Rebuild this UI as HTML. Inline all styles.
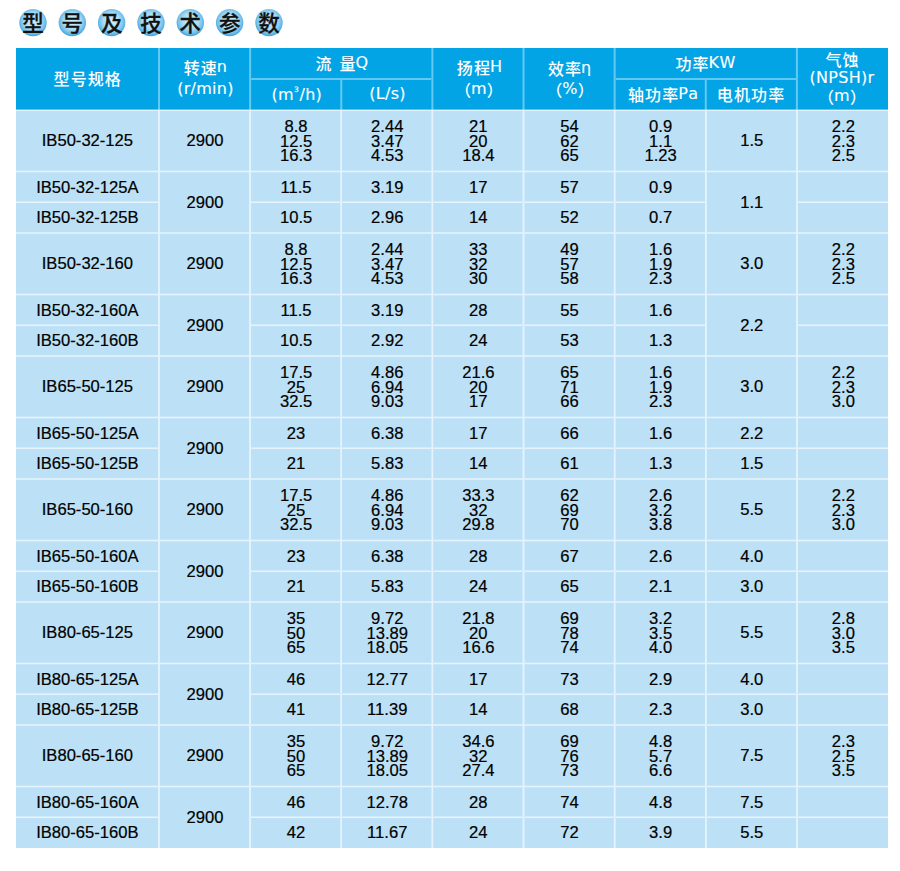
<!DOCTYPE html><html><head><meta charset="utf-8"><title>型号及技术参数</title><style>
html,body{margin:0;padding:0;background:#fff;}
body{width:900px;height:871px;overflow:hidden;position:relative;}
.bg{position:absolute;left:0;top:0;}
.b,.h{position:absolute;display:flex;align-items:center;justify-content:center;text-align:center;white-space:nowrap;}
.b{font-family:"Liberation Sans",Arial,sans-serif;font-size:16.6px;color:#000;line-height:18px;-webkit-text-stroke:0.2px #000;}
.b .m{display:block;line-height:14.5px;position:relative;top:0.6px;}
.h{font-family:"DejaVu Sans","Noto Sans CJK SC",sans-serif;font-size:16px;color:#fff;line-height:20px;}
.h .h2{display:block;line-height:22.5px;}
.h .h3{display:block;line-height:19px;}
.hl{position:absolute;width:120px;height:24px;line-height:24px;text-align:center;white-space:nowrap;font-family:"DejaVu Sans","Noto Sans CJK SC",sans-serif;font-size:16px;color:#fff;letter-spacing:0.3px;font-kerning:none;-webkit-text-stroke:0.12px #fff;}
.hl .cj{font-family:"Noto Sans CJK SC",sans-serif;font-size:16px;letter-spacing:1.1px;font-weight:500;vertical-align:top;margin-right:-1.1px;-webkit-text-stroke:0;}
.hl sup{font-size:7.5px;vertical-align:8px;line-height:0;letter-spacing:0.8px;}
.h .cj{font-family:"Noto Sans CJK SC",sans-serif;font-size:16.6px;}
.h sup{font-size:9px;vertical-align:8px;line-height:0;}
.t{position:absolute;top:10.2px;width:30px;height:28px;font-family:"Noto Sans CJK SC",sans-serif;font-weight:500;font-size:21.5px;line-height:24px;text-align:center;color:#111;-webkit-text-stroke:0.3px #111;}
</style></head><body><svg class="bg" width="900" height="871" viewBox="0 0 900 871"><defs><radialGradient id="cg" cx="50%" cy="45%" r="55%"><stop offset="0" stop-color="#d4f0fc"/><stop offset="0.55" stop-color="#a8dcf5"/><stop offset="0.82" stop-color="#70bee9"/><stop offset="1" stop-color="#3c9fd9"/></radialGradient></defs><rect x="16" y="48" width="872" height="62" fill="#02a4e6"/><rect x="16" y="110" width="872" height="738" fill="#bce0f6"/><rect x="158" y="48" width="2" height="62" fill="#62caf2"/><rect x="249.13" y="48" width="2" height="62" fill="#62caf2"/><rect x="340.26" y="79" width="2" height="31" fill="#62caf2"/><rect x="431.39" y="48" width="2" height="62" fill="#62caf2"/><rect x="522.52" y="48" width="2" height="62" fill="#62caf2"/><rect x="613.65" y="48" width="2" height="62" fill="#62caf2"/><rect x="704.78" y="79" width="2" height="31" fill="#62caf2"/><rect x="795.91" y="48" width="2" height="62" fill="#62caf2"/><rect x="251.13" y="78" width="180.26" height="2" fill="#62caf2"/><rect x="615.65" y="78" width="180.26" height="2" fill="#62caf2"/><rect x="16" y="109.6" width="872" height="1.4" fill="#e4f3fc"/><rect x="158.25" y="110" width="1.5" height="738" fill="#e4f3fc"/><rect x="249.38" y="110" width="1.5" height="738" fill="#e4f3fc"/><rect x="340.51" y="110" width="1.5" height="738" fill="#e4f3fc"/><rect x="431.64" y="110" width="1.5" height="738" fill="#e4f3fc"/><rect x="522.77" y="110" width="1.5" height="738" fill="#e4f3fc"/><rect x="613.9" y="110" width="1.5" height="738" fill="#e4f3fc"/><rect x="705.03" y="110" width="1.5" height="738" fill="#e4f3fc"/><rect x="796.16" y="110" width="1.5" height="738" fill="#e4f3fc"/><rect x="16" y="170.7" width="872" height="1.6" fill="#e4f3fc"/><rect x="16" y="201.45" width="142" height="1.6" fill="#e4f3fc"/><rect x="251.13" y="201.45" width="89.13" height="1.6" fill="#e4f3fc"/><rect x="342.26" y="201.45" width="89.13" height="1.6" fill="#e4f3fc"/><rect x="433.39" y="201.45" width="89.13" height="1.6" fill="#e4f3fc"/><rect x="524.52" y="201.45" width="89.13" height="1.6" fill="#e4f3fc"/><rect x="615.65" y="201.45" width="89.13" height="1.6" fill="#e4f3fc"/><rect x="797.91" y="201.45" width="90.09" height="1.6" fill="#e4f3fc"/><rect x="16" y="232.2" width="872" height="1.6" fill="#e4f3fc"/><rect x="16" y="293.7" width="872" height="1.6" fill="#e4f3fc"/><rect x="16" y="324.45" width="142" height="1.6" fill="#e4f3fc"/><rect x="251.13" y="324.45" width="89.13" height="1.6" fill="#e4f3fc"/><rect x="342.26" y="324.45" width="89.13" height="1.6" fill="#e4f3fc"/><rect x="433.39" y="324.45" width="89.13" height="1.6" fill="#e4f3fc"/><rect x="524.52" y="324.45" width="89.13" height="1.6" fill="#e4f3fc"/><rect x="615.65" y="324.45" width="89.13" height="1.6" fill="#e4f3fc"/><rect x="797.91" y="324.45" width="90.09" height="1.6" fill="#e4f3fc"/><rect x="16" y="355.2" width="872" height="1.6" fill="#e4f3fc"/><rect x="16" y="416.7" width="872" height="1.6" fill="#e4f3fc"/><rect x="16" y="447.45" width="142" height="1.6" fill="#e4f3fc"/><rect x="251.13" y="447.45" width="89.13" height="1.6" fill="#e4f3fc"/><rect x="342.26" y="447.45" width="89.13" height="1.6" fill="#e4f3fc"/><rect x="433.39" y="447.45" width="89.13" height="1.6" fill="#e4f3fc"/><rect x="524.52" y="447.45" width="89.13" height="1.6" fill="#e4f3fc"/><rect x="615.65" y="447.45" width="89.13" height="1.6" fill="#e4f3fc"/><rect x="706.78" y="447.45" width="89.13" height="1.6" fill="#e4f3fc"/><rect x="797.91" y="447.45" width="90.09" height="1.6" fill="#e4f3fc"/><rect x="16" y="478.2" width="872" height="1.6" fill="#e4f3fc"/><rect x="16" y="539.7" width="872" height="1.6" fill="#e4f3fc"/><rect x="16" y="570.45" width="142" height="1.6" fill="#e4f3fc"/><rect x="251.13" y="570.45" width="89.13" height="1.6" fill="#e4f3fc"/><rect x="342.26" y="570.45" width="89.13" height="1.6" fill="#e4f3fc"/><rect x="433.39" y="570.45" width="89.13" height="1.6" fill="#e4f3fc"/><rect x="524.52" y="570.45" width="89.13" height="1.6" fill="#e4f3fc"/><rect x="615.65" y="570.45" width="89.13" height="1.6" fill="#e4f3fc"/><rect x="706.78" y="570.45" width="89.13" height="1.6" fill="#e4f3fc"/><rect x="797.91" y="570.45" width="90.09" height="1.6" fill="#e4f3fc"/><rect x="16" y="601.2" width="872" height="1.6" fill="#e4f3fc"/><rect x="16" y="662.7" width="872" height="1.6" fill="#e4f3fc"/><rect x="16" y="693.45" width="142" height="1.6" fill="#e4f3fc"/><rect x="251.13" y="693.45" width="89.13" height="1.6" fill="#e4f3fc"/><rect x="342.26" y="693.45" width="89.13" height="1.6" fill="#e4f3fc"/><rect x="433.39" y="693.45" width="89.13" height="1.6" fill="#e4f3fc"/><rect x="524.52" y="693.45" width="89.13" height="1.6" fill="#e4f3fc"/><rect x="615.65" y="693.45" width="89.13" height="1.6" fill="#e4f3fc"/><rect x="706.78" y="693.45" width="89.13" height="1.6" fill="#e4f3fc"/><rect x="797.91" y="693.45" width="90.09" height="1.6" fill="#e4f3fc"/><rect x="16" y="724.2" width="872" height="1.6" fill="#e4f3fc"/><rect x="16" y="785.7" width="872" height="1.6" fill="#e4f3fc"/><rect x="16" y="816.45" width="142" height="1.6" fill="#e4f3fc"/><rect x="251.13" y="816.45" width="89.13" height="1.6" fill="#e4f3fc"/><rect x="342.26" y="816.45" width="89.13" height="1.6" fill="#e4f3fc"/><rect x="433.39" y="816.45" width="89.13" height="1.6" fill="#e4f3fc"/><rect x="524.52" y="816.45" width="89.13" height="1.6" fill="#e4f3fc"/><rect x="615.65" y="816.45" width="89.13" height="1.6" fill="#e4f3fc"/><rect x="706.78" y="816.45" width="89.13" height="1.6" fill="#e4f3fc"/><rect x="797.91" y="816.45" width="90.09" height="1.6" fill="#e4f3fc"/><rect x="158.25" y="110" width="1.5" height="738" fill="#e4f3fc"/><rect x="249.38" y="110" width="1.5" height="738" fill="#e4f3fc"/><rect x="340.51" y="110" width="1.5" height="738" fill="#e4f3fc"/><rect x="431.64" y="110" width="1.5" height="738" fill="#e4f3fc"/><rect x="522.77" y="110" width="1.5" height="738" fill="#e4f3fc"/><rect x="613.9" y="110" width="1.5" height="738" fill="#e4f3fc"/><rect x="705.03" y="110" width="1.5" height="738" fill="#e4f3fc"/><rect x="796.16" y="110" width="1.5" height="738" fill="#e4f3fc"/><circle cx="33.00" cy="22.6" r="13.7" fill="url(#cg)"/><circle cx="72.33" cy="22.6" r="13.7" fill="url(#cg)"/><circle cx="111.66" cy="22.6" r="13.7" fill="url(#cg)"/><circle cx="150.99" cy="22.6" r="13.7" fill="url(#cg)"/><circle cx="190.32" cy="22.6" r="13.7" fill="url(#cg)"/><circle cx="229.65" cy="22.6" r="13.7" fill="url(#cg)"/><circle cx="268.98" cy="22.6" r="13.7" fill="url(#cg)"/></svg>
<div class="t" style="left:18.00px">型</div>
<div class="t" style="left:57.33px">号</div>
<div class="t" style="left:96.66px">及</div>
<div class="t" style="left:135.99px">技</div>
<div class="t" style="left:175.32px">术</div>
<div class="t" style="left:214.65px">参</div>
<div class="t" style="left:253.98px">数</div>
<div class="hl" id="h0" style="left:27.20px;top:65.80px"><span class="cj">型号规格</span></div>
<div class="hl" id="h1" style="left:145.50px;top:55.00px"><span class="cj">转速</span>n</div>
<div class="hl" id="h2" style="left:145.50px;top:77.15px">(r/min)</div>
<div class="hl" id="h3" style="left:282.00px;top:50.75px"><span class="cj">流</span><span style="display:inline-block;width:8px"></span><span class="cj">量</span>Q</div>
<div class="hl" id="h4" style="left:236.80px;top:82.50px">(m<sup>3</sup>/h)</div>
<div class="hl" id="h5" style="left:327.50px;top:82.00px">(L/s)</div>
<div class="hl" id="h6" style="left:419.60px;top:55.25px"><span class="cj">扬程</span>H</div>
<div class="hl" id="h7" style="left:418.90px;top:76.80px"><span class="cj">（</span>m<span class="cj">）</span></div>
<div class="hl" id="h8" style="left:509.75px;top:55.50px"><span class="cj">效率</span>η</div>
<div class="hl" id="h9" style="left:510.00px;top:77.25px"><span class="cj">（</span>%<span class="cj">）</span></div>
<div class="hl" id="h10" style="left:645.50px;top:50.85px"><span class="cj">功率</span>KW</div>
<div class="hl" id="h11" style="left:603.15px;top:81.50px"><span class="cj">轴功率</span>Pa</div>
<div class="hl" id="h12" style="left:690.50px;top:81.50px"><span class="cj">电机功率</span></div>
<div class="hl" id="h13" style="left:782.00px;top:47.25px"><span class="cj">气蚀</span></div>
<div class="hl" id="h14" style="left:782.00px;top:65.75px">(NPSH)r</div>
<div class="hl" id="h15" style="left:782.00px;top:84.00px"><span class="cj">（</span>m<span class="cj">）</span></div>
<div class="b" style="left:16.4px;top:110.7px;width:142px;height:61.5px">IB50-32-125</div>
<div class="b" style="left:160.4px;top:110.7px;width:89.13px;height:61.5px">2900</div>
<div class="b" style="left:251.53px;top:110.7px;width:89.13px;height:61.5px"><span class="m">8.8<br>12.5<br>16.3</span></div>
<div class="b" style="left:342.66px;top:110.7px;width:89.13px;height:61.5px"><span class="m">2.44<br>3.47<br>4.53</span></div>
<div class="b" style="left:433.79px;top:110.7px;width:89.13px;height:61.5px"><span class="m">21<br>20<br>18.4</span></div>
<div class="b" style="left:524.92px;top:110.7px;width:89.13px;height:61.5px"><span class="m">54<br>62<br>65</span></div>
<div class="b" style="left:616.05px;top:110.7px;width:89.13px;height:61.5px"><span class="m">0.9<br>1.1<br>1.23</span></div>
<div class="b" style="left:707.18px;top:110.7px;width:89.13px;height:61.5px">1.5</div>
<div class="b" style="left:798.31px;top:110.7px;width:90.09px;height:61.5px"><span class="m">2.2<br>2.3<br>2.5</span></div>
<div class="b" style="left:16.4px;top:172.2px;width:142px;height:30.75px">IB50-32-125A</div>
<div class="b" style="left:251.53px;top:172.2px;width:89.13px;height:30.75px">11.5</div>
<div class="b" style="left:342.66px;top:172.2px;width:89.13px;height:30.75px">3.19</div>
<div class="b" style="left:433.79px;top:172.2px;width:89.13px;height:30.75px">17</div>
<div class="b" style="left:524.92px;top:172.2px;width:89.13px;height:30.75px">57</div>
<div class="b" style="left:616.05px;top:172.2px;width:89.13px;height:30.75px">0.9</div>
<div class="b" style="left:16.4px;top:202.95px;width:142px;height:30.75px">IB50-32-125B</div>
<div class="b" style="left:251.53px;top:202.95px;width:89.13px;height:30.75px">10.5</div>
<div class="b" style="left:342.66px;top:202.95px;width:89.13px;height:30.75px">2.96</div>
<div class="b" style="left:433.79px;top:202.95px;width:89.13px;height:30.75px">14</div>
<div class="b" style="left:524.92px;top:202.95px;width:89.13px;height:30.75px">52</div>
<div class="b" style="left:616.05px;top:202.95px;width:89.13px;height:30.75px">0.7</div>
<div class="b" style="left:160.4px;top:172.2px;width:89.13px;height:61.5px">2900</div>
<div class="b" style="left:707.18px;top:172.2px;width:89.13px;height:61.5px">1.1</div>
<div class="b" style="left:16.4px;top:233.7px;width:142px;height:61.5px">IB50-32-160</div>
<div class="b" style="left:160.4px;top:233.7px;width:89.13px;height:61.5px">2900</div>
<div class="b" style="left:251.53px;top:233.7px;width:89.13px;height:61.5px"><span class="m">8.8<br>12.5<br>16.3</span></div>
<div class="b" style="left:342.66px;top:233.7px;width:89.13px;height:61.5px"><span class="m">2.44<br>3.47<br>4.53</span></div>
<div class="b" style="left:433.79px;top:233.7px;width:89.13px;height:61.5px"><span class="m">33<br>32<br>30</span></div>
<div class="b" style="left:524.92px;top:233.7px;width:89.13px;height:61.5px"><span class="m">49<br>57<br>58</span></div>
<div class="b" style="left:616.05px;top:233.7px;width:89.13px;height:61.5px"><span class="m">1.6<br>1.9<br>2.3</span></div>
<div class="b" style="left:707.18px;top:233.7px;width:89.13px;height:61.5px">3.0</div>
<div class="b" style="left:798.31px;top:233.7px;width:90.09px;height:61.5px"><span class="m">2.2<br>2.3<br>2.5</span></div>
<div class="b" style="left:16.4px;top:295.2px;width:142px;height:30.75px">IB50-32-160A</div>
<div class="b" style="left:251.53px;top:295.2px;width:89.13px;height:30.75px">11.5</div>
<div class="b" style="left:342.66px;top:295.2px;width:89.13px;height:30.75px">3.19</div>
<div class="b" style="left:433.79px;top:295.2px;width:89.13px;height:30.75px">28</div>
<div class="b" style="left:524.92px;top:295.2px;width:89.13px;height:30.75px">55</div>
<div class="b" style="left:616.05px;top:295.2px;width:89.13px;height:30.75px">1.6</div>
<div class="b" style="left:16.4px;top:325.95px;width:142px;height:30.75px">IB50-32-160B</div>
<div class="b" style="left:251.53px;top:325.95px;width:89.13px;height:30.75px">10.5</div>
<div class="b" style="left:342.66px;top:325.95px;width:89.13px;height:30.75px">2.92</div>
<div class="b" style="left:433.79px;top:325.95px;width:89.13px;height:30.75px">24</div>
<div class="b" style="left:524.92px;top:325.95px;width:89.13px;height:30.75px">53</div>
<div class="b" style="left:616.05px;top:325.95px;width:89.13px;height:30.75px">1.3</div>
<div class="b" style="left:160.4px;top:295.2px;width:89.13px;height:61.5px">2900</div>
<div class="b" style="left:707.18px;top:295.2px;width:89.13px;height:61.5px">2.2</div>
<div class="b" style="left:16.4px;top:356.7px;width:142px;height:61.5px">IB65-50-125</div>
<div class="b" style="left:160.4px;top:356.7px;width:89.13px;height:61.5px">2900</div>
<div class="b" style="left:251.53px;top:356.7px;width:89.13px;height:61.5px"><span class="m">17.5<br>25<br>32.5</span></div>
<div class="b" style="left:342.66px;top:356.7px;width:89.13px;height:61.5px"><span class="m">4.86<br>6.94<br>9.03</span></div>
<div class="b" style="left:433.79px;top:356.7px;width:89.13px;height:61.5px"><span class="m">21.6<br>20<br>17</span></div>
<div class="b" style="left:524.92px;top:356.7px;width:89.13px;height:61.5px"><span class="m">65<br>71<br>66</span></div>
<div class="b" style="left:616.05px;top:356.7px;width:89.13px;height:61.5px"><span class="m">1.6<br>1.9<br>2.3</span></div>
<div class="b" style="left:707.18px;top:356.7px;width:89.13px;height:61.5px">3.0</div>
<div class="b" style="left:798.31px;top:356.7px;width:90.09px;height:61.5px"><span class="m">2.2<br>2.3<br>3.0</span></div>
<div class="b" style="left:16.4px;top:418.2px;width:142px;height:30.75px">IB65-50-125A</div>
<div class="b" style="left:251.53px;top:418.2px;width:89.13px;height:30.75px">23</div>
<div class="b" style="left:342.66px;top:418.2px;width:89.13px;height:30.75px">6.38</div>
<div class="b" style="left:433.79px;top:418.2px;width:89.13px;height:30.75px">17</div>
<div class="b" style="left:524.92px;top:418.2px;width:89.13px;height:30.75px">66</div>
<div class="b" style="left:616.05px;top:418.2px;width:89.13px;height:30.75px">1.6</div>
<div class="b" style="left:16.4px;top:448.95px;width:142px;height:30.75px">IB65-50-125B</div>
<div class="b" style="left:251.53px;top:448.95px;width:89.13px;height:30.75px">21</div>
<div class="b" style="left:342.66px;top:448.95px;width:89.13px;height:30.75px">5.83</div>
<div class="b" style="left:433.79px;top:448.95px;width:89.13px;height:30.75px">14</div>
<div class="b" style="left:524.92px;top:448.95px;width:89.13px;height:30.75px">61</div>
<div class="b" style="left:616.05px;top:448.95px;width:89.13px;height:30.75px">1.3</div>
<div class="b" style="left:160.4px;top:418.2px;width:89.13px;height:61.5px">2900</div>
<div class="b" style="left:707.18px;top:418.2px;width:89.13px;height:30.75px">2.2</div>
<div class="b" style="left:707.18px;top:448.95px;width:89.13px;height:30.75px">1.5</div>
<div class="b" style="left:16.4px;top:479.7px;width:142px;height:61.5px">IB65-50-160</div>
<div class="b" style="left:160.4px;top:479.7px;width:89.13px;height:61.5px">2900</div>
<div class="b" style="left:251.53px;top:479.7px;width:89.13px;height:61.5px"><span class="m">17.5<br>25<br>32.5</span></div>
<div class="b" style="left:342.66px;top:479.7px;width:89.13px;height:61.5px"><span class="m">4.86<br>6.94<br>9.03</span></div>
<div class="b" style="left:433.79px;top:479.7px;width:89.13px;height:61.5px"><span class="m">33.3<br>32<br>29.8</span></div>
<div class="b" style="left:524.92px;top:479.7px;width:89.13px;height:61.5px"><span class="m">62<br>69<br>70</span></div>
<div class="b" style="left:616.05px;top:479.7px;width:89.13px;height:61.5px"><span class="m">2.6<br>3.2<br>3.8</span></div>
<div class="b" style="left:707.18px;top:479.7px;width:89.13px;height:61.5px">5.5</div>
<div class="b" style="left:798.31px;top:479.7px;width:90.09px;height:61.5px"><span class="m">2.2<br>2.3<br>3.0</span></div>
<div class="b" style="left:16.4px;top:541.2px;width:142px;height:30.75px">IB65-50-160A</div>
<div class="b" style="left:251.53px;top:541.2px;width:89.13px;height:30.75px">23</div>
<div class="b" style="left:342.66px;top:541.2px;width:89.13px;height:30.75px">6.38</div>
<div class="b" style="left:433.79px;top:541.2px;width:89.13px;height:30.75px">28</div>
<div class="b" style="left:524.92px;top:541.2px;width:89.13px;height:30.75px">67</div>
<div class="b" style="left:616.05px;top:541.2px;width:89.13px;height:30.75px">2.6</div>
<div class="b" style="left:16.4px;top:571.95px;width:142px;height:30.75px">IB65-50-160B</div>
<div class="b" style="left:251.53px;top:571.95px;width:89.13px;height:30.75px">21</div>
<div class="b" style="left:342.66px;top:571.95px;width:89.13px;height:30.75px">5.83</div>
<div class="b" style="left:433.79px;top:571.95px;width:89.13px;height:30.75px">24</div>
<div class="b" style="left:524.92px;top:571.95px;width:89.13px;height:30.75px">65</div>
<div class="b" style="left:616.05px;top:571.95px;width:89.13px;height:30.75px">2.1</div>
<div class="b" style="left:160.4px;top:541.2px;width:89.13px;height:61.5px">2900</div>
<div class="b" style="left:707.18px;top:541.2px;width:89.13px;height:30.75px">4.0</div>
<div class="b" style="left:707.18px;top:571.95px;width:89.13px;height:30.75px">3.0</div>
<div class="b" style="left:16.4px;top:602.7px;width:142px;height:61.5px">IB80-65-125</div>
<div class="b" style="left:160.4px;top:602.7px;width:89.13px;height:61.5px">2900</div>
<div class="b" style="left:251.53px;top:602.7px;width:89.13px;height:61.5px"><span class="m">35<br>50<br>65</span></div>
<div class="b" style="left:342.66px;top:602.7px;width:89.13px;height:61.5px"><span class="m">9.72<br>13.89<br>18.05</span></div>
<div class="b" style="left:433.79px;top:602.7px;width:89.13px;height:61.5px"><span class="m">21.8<br>20<br>16.6</span></div>
<div class="b" style="left:524.92px;top:602.7px;width:89.13px;height:61.5px"><span class="m">69<br>78<br>74</span></div>
<div class="b" style="left:616.05px;top:602.7px;width:89.13px;height:61.5px"><span class="m">3.2<br>3.5<br>4.0</span></div>
<div class="b" style="left:707.18px;top:602.7px;width:89.13px;height:61.5px">5.5</div>
<div class="b" style="left:798.31px;top:602.7px;width:90.09px;height:61.5px"><span class="m">2.8<br>3.0<br>3.5</span></div>
<div class="b" style="left:16.4px;top:664.2px;width:142px;height:30.75px">IB80-65-125A</div>
<div class="b" style="left:251.53px;top:664.2px;width:89.13px;height:30.75px">46</div>
<div class="b" style="left:342.66px;top:664.2px;width:89.13px;height:30.75px">12.77</div>
<div class="b" style="left:433.79px;top:664.2px;width:89.13px;height:30.75px">17</div>
<div class="b" style="left:524.92px;top:664.2px;width:89.13px;height:30.75px">73</div>
<div class="b" style="left:616.05px;top:664.2px;width:89.13px;height:30.75px">2.9</div>
<div class="b" style="left:16.4px;top:694.95px;width:142px;height:30.75px">IB80-65-125B</div>
<div class="b" style="left:251.53px;top:694.95px;width:89.13px;height:30.75px">41</div>
<div class="b" style="left:342.66px;top:694.95px;width:89.13px;height:30.75px">11.39</div>
<div class="b" style="left:433.79px;top:694.95px;width:89.13px;height:30.75px">14</div>
<div class="b" style="left:524.92px;top:694.95px;width:89.13px;height:30.75px">68</div>
<div class="b" style="left:616.05px;top:694.95px;width:89.13px;height:30.75px">2.3</div>
<div class="b" style="left:160.4px;top:664.2px;width:89.13px;height:61.5px">2900</div>
<div class="b" style="left:707.18px;top:664.2px;width:89.13px;height:30.75px">4.0</div>
<div class="b" style="left:707.18px;top:694.95px;width:89.13px;height:30.75px">3.0</div>
<div class="b" style="left:16.4px;top:725.7px;width:142px;height:61.5px">IB80-65-160</div>
<div class="b" style="left:160.4px;top:725.7px;width:89.13px;height:61.5px">2900</div>
<div class="b" style="left:251.53px;top:725.7px;width:89.13px;height:61.5px"><span class="m">35<br>50<br>65</span></div>
<div class="b" style="left:342.66px;top:725.7px;width:89.13px;height:61.5px"><span class="m">9.72<br>13.89<br>18.05</span></div>
<div class="b" style="left:433.79px;top:725.7px;width:89.13px;height:61.5px"><span class="m">34.6<br>32<br>27.4</span></div>
<div class="b" style="left:524.92px;top:725.7px;width:89.13px;height:61.5px"><span class="m">69<br>76<br>73</span></div>
<div class="b" style="left:616.05px;top:725.7px;width:89.13px;height:61.5px"><span class="m">4.8<br>5.7<br>6.6</span></div>
<div class="b" style="left:707.18px;top:725.7px;width:89.13px;height:61.5px">7.5</div>
<div class="b" style="left:798.31px;top:725.7px;width:90.09px;height:61.5px"><span class="m">2.3<br>2.5<br>3.5</span></div>
<div class="b" style="left:16.4px;top:787.2px;width:142px;height:30.75px">IB80-65-160A</div>
<div class="b" style="left:251.53px;top:787.2px;width:89.13px;height:30.75px">46</div>
<div class="b" style="left:342.66px;top:787.2px;width:89.13px;height:30.75px">12.78</div>
<div class="b" style="left:433.79px;top:787.2px;width:89.13px;height:30.75px">28</div>
<div class="b" style="left:524.92px;top:787.2px;width:89.13px;height:30.75px">74</div>
<div class="b" style="left:616.05px;top:787.2px;width:89.13px;height:30.75px">4.8</div>
<div class="b" style="left:16.4px;top:817.95px;width:142px;height:30.75px">IB80-65-160B</div>
<div class="b" style="left:251.53px;top:817.95px;width:89.13px;height:30.75px">42</div>
<div class="b" style="left:342.66px;top:817.95px;width:89.13px;height:30.75px">11.67</div>
<div class="b" style="left:433.79px;top:817.95px;width:89.13px;height:30.75px">24</div>
<div class="b" style="left:524.92px;top:817.95px;width:89.13px;height:30.75px">72</div>
<div class="b" style="left:616.05px;top:817.95px;width:89.13px;height:30.75px">3.9</div>
<div class="b" style="left:160.4px;top:787.2px;width:89.13px;height:61.5px">2900</div>
<div class="b" style="left:707.18px;top:787.2px;width:89.13px;height:30.75px">7.5</div>
<div class="b" style="left:707.18px;top:817.95px;width:89.13px;height:30.75px">5.5</div>
</body></html>
